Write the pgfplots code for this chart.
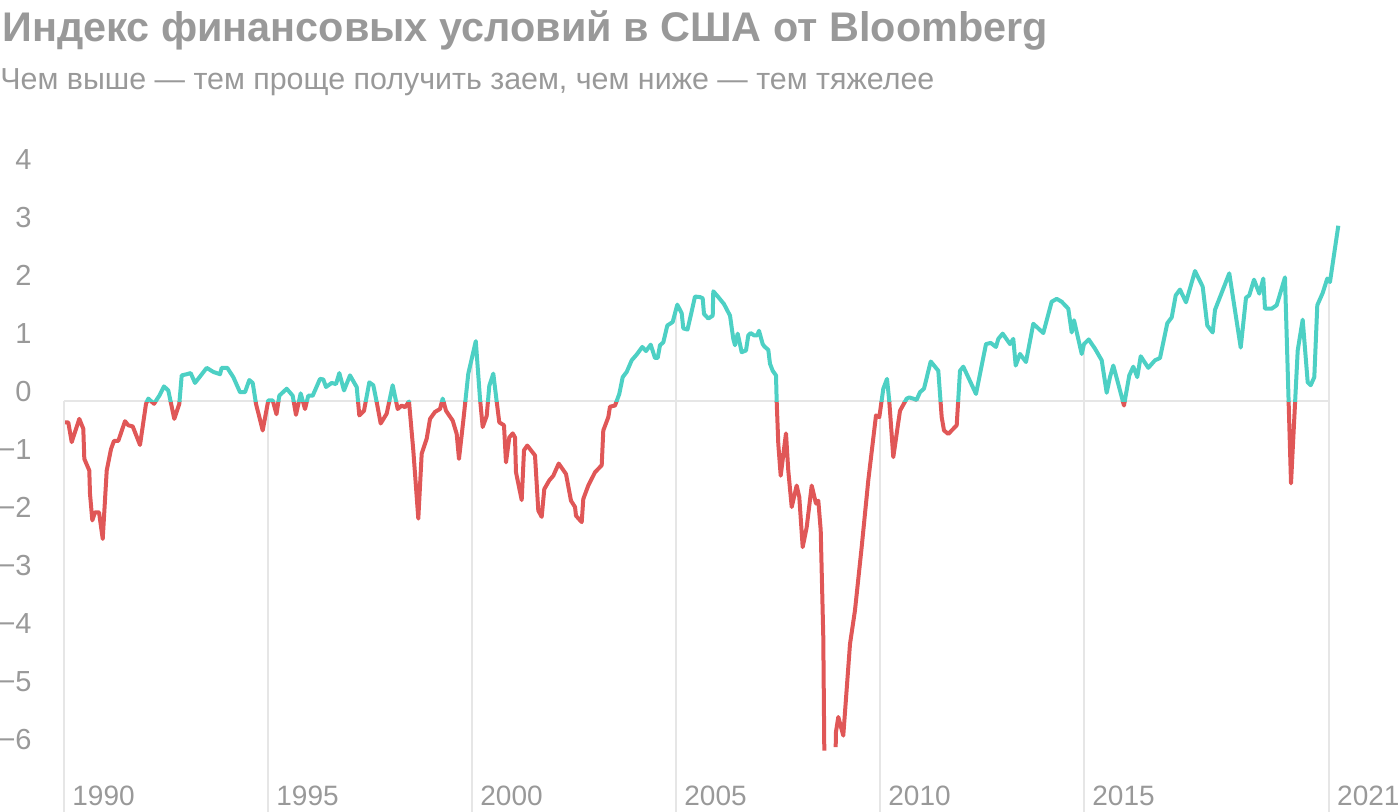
\documentclass[border=0pt]{standalone}
\usepackage{fontspec}
\setmainfont{Liberation Sans}
\usepackage{pgfplots}
\usepackage{pgfplotstable}
\pgfplotsset{compat=1.18}

\definecolor{upTeal}{HTML}{4DD0C4}
\definecolor{downRed}{HTML}{E05757}
\definecolor{txtGray}{HTML}{999999}
\definecolor{gridGray}{HTML}{E6E6E6}

% Bloomberg US financial conditions index
\pgfplotstableread{
year val
1990.025 -0.36
1990.105 -0.36
1990.189 -0.70
1990.375 -0.30
1990.473 -0.47
1990.498 -0.99
1990.620 -1.19
1990.637 -1.59
1990.694 -2.05
1990.760 -1.91
1990.858 -1.91
1990.949 -2.37
1991.047 -1.19
1991.152 -0.82
1991.225 -0.68
1991.331 -0.68
1991.495 -0.34
1991.576 -0.41
1991.684 -0.43
1991.863 -0.75
1992.010 -0.04
1992.066 0.05
1992.206 -0.04
1992.336 0.10
1992.451 0.26
1992.556 0.19
1992.703 -0.30
1992.826 -0.04
1992.885 0.45
1993.007 0.47
1993.105 0.49
1993.211 0.32
1993.333 0.43
1993.498 0.58
1993.659 0.51
1993.824 0.47
1993.865 0.58
1994.002 0.58
1994.150 0.42
1994.314 0.16
1994.436 0.16
1994.542 0.37
1994.625 0.32
1994.706 -0.04
1994.870 -0.50
1995.007 0.02
1995.115 0.02
1995.208 -0.22
1995.277 0.10
1995.458 0.22
1995.605 0.10
1995.686 -0.23
1995.801 0.14
1995.907 -0.13
1995.988 0.10
1996.096 0.10
1996.275 0.39
1996.355 0.38
1996.422 0.25
1996.561 0.32
1996.667 0.30
1996.748 0.49
1996.863 0.19
1997.010 0.45
1997.132 0.30
1997.174 0.25
1997.238 -0.24
1997.353 -0.16
1997.483 0.33
1997.581 0.28
1997.664 -0.01
1997.762 -0.38
1997.909 -0.21
1998.056 0.28
1998.179 -0.13
1998.277 -0.07
1998.358 -0.10
1998.456 0.00
1998.561 -0.84
1998.684 -2.02
1998.767 -0.90
1998.890 -0.64
1998.971 -0.30
1999.093 -0.18
1999.216 -0.13
1999.282 0.05
1999.363 -0.16
1999.527 -0.33
1999.625 -0.56
1999.681 -0.99
1999.787 -0.33
1999.909 0.48
2000.093 1.04
2000.196 0.05
2000.262 -0.44
2000.360 -0.25
2000.424 0.27
2000.522 0.48
2000.605 0.00
2000.669 -0.36
2000.784 -0.41
2000.833 -1.05
2000.914 -0.62
2000.998 -0.55
2001.054 -0.62
2001.078 -1.22
2001.218 -1.70
2001.275 -0.84
2001.355 -0.76
2001.544 -0.93
2001.625 -1.88
2001.708 -1.99
2001.772 -1.51
2001.895 -1.36
2001.993 -1.28
2002.125 -1.07
2002.304 -1.25
2002.426 -1.71
2002.525 -1.82
2002.549 -1.97
2002.689 -2.08
2002.728 -1.68
2002.850 -1.45
2003.015 -1.22
2003.179 -1.10
2003.218 -0.50
2003.341 -0.27
2003.382 -0.09
2003.505 -0.07
2003.610 0.13
2003.694 0.42
2003.792 0.51
2003.914 0.71
2004.037 0.81
2004.174 0.94
2004.265 0.87
2004.380 0.98
2004.485 0.75
2004.551 0.75
2004.608 0.97
2004.689 1.02
2004.787 1.31
2004.919 1.37
2005.032 1.67
2005.140 1.52
2005.179 1.26
2005.282 1.24
2005.380 1.54
2005.466 1.81
2005.588 1.80
2005.654 1.78
2005.686 1.51
2005.792 1.43
2005.900 1.48
2005.914 1.90
2006.037 1.80
2006.176 1.68
2006.324 1.48
2006.404 1.08
2006.446 0.97
2006.512 1.17
2006.610 0.85
2006.716 0.88
2006.772 1.14
2006.831 1.18
2006.912 1.14
2006.993 1.14
2007.034 1.22
2007.125 0.99
2007.164 0.95
2007.262 0.89
2007.304 0.65
2007.370 0.53
2007.451 0.45
2007.468 0.00
2007.507 -0.73
2007.566 -1.28
2007.696 -0.55
2007.752 -1.19
2007.836 -1.82
2007.958 -1.45
2008.022 -1.65
2008.105 -2.51
2008.203 -2.17
2008.326 -1.45
2008.431 -1.76
2008.488 -1.71
2008.547 -2.22
2008.610 -4.06
2008.635 -6.02
2008.770 nan
2008.914 -5.96
2008.920 -5.70
2008.978 -5.44
2009.100 -5.76
2009.265 -4.18
2009.387 -3.60
2009.551 -2.51
2009.713 -1.36
2009.902 -0.24
2009.983 -0.27
2010.081 0.22
2010.172 0.39
2010.228 0.00
2010.326 -0.96
2010.490 -0.16
2010.654 0.05
2010.718 0.07
2010.899 0.03
2010.980 0.16
2011.078 0.22
2011.243 0.69
2011.429 0.53
2011.512 -0.27
2011.569 -0.50
2011.674 -0.56
2011.880 -0.41
2011.961 0.53
2012.042 0.60
2012.353 0.13
2012.598 0.99
2012.713 1.01
2012.843 0.94
2012.900 1.08
2013.007 1.17
2013.186 0.99
2013.267 1.08
2013.326 0.62
2013.431 0.82
2013.578 0.68
2013.757 1.34
2014.002 1.18
2014.208 1.72
2014.331 1.77
2014.453 1.72
2014.615 1.60
2014.699 1.19
2014.755 1.40
2014.944 0.82
2015.000 0.99
2015.115 1.07
2015.270 0.91
2015.434 0.71
2015.556 0.15
2015.637 0.42
2015.718 0.62
2015.841 0.30
2015.980 -0.07
2016.110 0.45
2016.208 0.60
2016.306 0.42
2016.390 0.78
2016.576 0.58
2016.740 0.71
2016.863 0.75
2017.042 1.35
2017.150 1.45
2017.248 1.83
2017.353 1.93
2017.500 1.71
2017.721 2.25
2017.909 1.98
2018.022 1.31
2018.154 1.19
2018.211 1.58
2018.561 2.21
2018.841 0.93
2018.971 1.79
2019.051 1.83
2019.167 2.10
2019.297 1.86
2019.395 2.12
2019.436 1.60
2019.600 1.60
2019.723 1.66
2019.926 2.14
2020.074 -1.41
2020.238 0.88
2020.360 1.41
2020.483 0.33
2020.556 0.28
2020.645 0.42
2020.718 1.66
2020.850 1.87
2020.963 2.12
2021.029 2.06
2021.233 3.03
}\bfci

\pgfplotsset{
  fcdata/.style={
    scale only axis, width=643pt,
    xmin=1990, xmax=2021.52,
    hide axis, clip=true,
    unbounded coords=jump,
  },
}

\begin{document}
\begin{tikzpicture}
\useasboundingbox (0pt,0pt) rectangle (700pt,406pt);

\node[anchor=base west, inner sep=0pt, text=txtGray] at (1pt,385pt)
  {\fontsize{20.7}{24}\selectfont\bfseries Индекс финансовых условий в США от Bloomberg};
\node[anchor=base west, inner sep=0pt, text=txtGray] at (0pt,361pt)
  {\fontsize{15.2}{18}\selectfont Чем выше — тем проще получить заем, чем ниже — тем тяжелее};

% frame: tick labels, zero line and drop lines
\begin{axis}[
  at={(32pt,0pt)}, anchor=south west,
  scale only axis, width=643pt, height=338.65pt,
  xmin=1990, xmax=2021.52, ymin=-7.0776, ymax=4.6,
  axis line style={draw=none},
  major tick length=0pt,
  xtick={1990,1995,2000,2005,2010,2015,2021},
  xticklabels={1990,1995,2000,2005,2010,2015,2021},
  ytick={-6,-5,-4,-3,-2,-1,0,1,2,3,4},
  yticklabels={−6,−5,−4,−3,−2,−1,0,1,2,3,4},
  xticklabel style={anchor=base west, inner sep=0pt, xshift=4pt, yshift=3pt,
    text=txtGray, font=\fontsize{14}{16}\selectfont},
  yticklabel style={anchor=base east, inner sep=0pt, xshift=-16pt,
    text=txtGray, font=\fontsize{14.5}{16}\selectfont},
  clip=false,
]
\draw[gridGray, line width=1pt] (axis cs:1990,0) -- (axis cs:2021,0);
\draw[gridGray, line width=1pt] (axis cs:1990,0) -- (axis cs:1990,-7.0776);
\draw[gridGray, line width=1pt] (axis cs:1995,0) -- (axis cs:1995,-7.0776);
\draw[gridGray, line width=1pt] (axis cs:2000,0.73) -- (axis cs:2000,-7.0776);
\draw[gridGray, line width=1pt] (axis cs:2005,1.59) -- (axis cs:2005,-7.0776);
\draw[gridGray, line width=1pt] (axis cs:2010,0) -- (axis cs:2010,-7.0776);
\draw[gridGray, line width=1pt] (axis cs:2015,0.99) -- (axis cs:2015,-7.0776);
\draw[gridGray, line width=1pt] (axis cs:2021,2.09) -- (axis cs:2021,-7.0776);
\end{axis}

% below zero: red
\begin{axis}[fcdata, at={(32pt,0pt)}, anchor=south west,
  height=205.25pt, ymin=-7.0776, ymax=0]
\addplot[downRed, line width=2pt, line join=round, no markers] table[x=year, y=val] {\bfci};
\end{axis}

% above zero: teal
\begin{axis}[fcdata, at={(32pt,205.25pt)}, anchor=south west,
  height=133.4pt, ymin=0, ymax=4.6]
\addplot[upTeal, line width=2pt, line join=round, no markers] table[x=year, y=val] {\bfci};
\end{axis}
\end{tikzpicture}
\end{document}
